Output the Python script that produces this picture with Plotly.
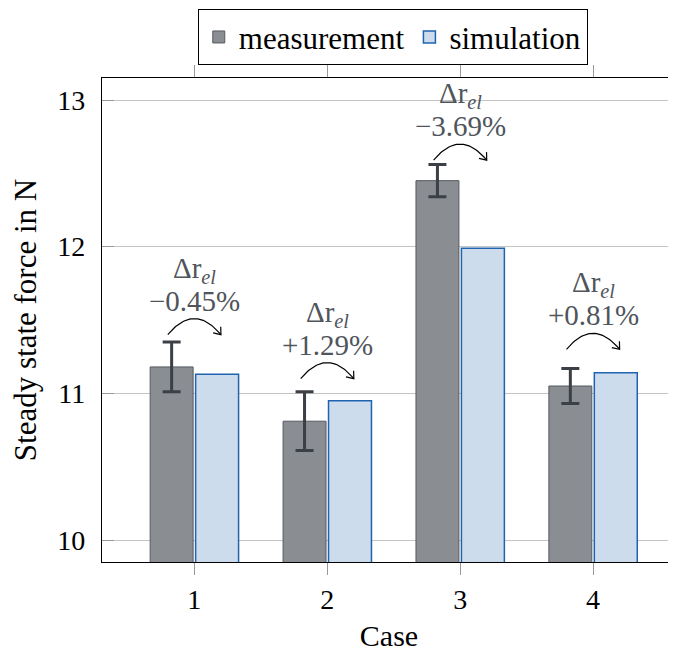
import numpy as np
import plotly.graph_objects as go

cases = [1, 2, 3, 4]
measurement = [11.18, 10.81, 12.45, 11.05]
measurement_err = [0.17, 0.20, 0.11, 0.12]
simulation = [11.13, 10.95, 11.99, 11.14]
delta_labels = ["\u22120.45%", "+1.29%", "\u22123.69%", "+0.81%"]
arc_base = [11.40, 11.10, 12.59, 11.30]   # anchor level of each curved arrow

FONT = "Liberation Serif"
TXT_GRAY = "#50555c"

X_RANGE = [0.305, 4.624]
Y_RANGE = [9.85, 13.15]
OFF = 8  # page body margin
L, R, T, B = 102 - OFF, 0, 78 - OFF, 90
W, H = 676 - OFF, 652 - OFF
sx = (W - L - R) / (X_RANGE[1] - X_RANGE[0])   # px per x unit
sy = (H - T - B) / (Y_RANGE[1] - Y_RANGE[0])   # px per y unit

fig = go.Figure()
fig.add_trace(go.Bar(
    x=cases, y=measurement, name="measurement",
    marker=dict(color="#8a8d92", line=dict(color="#555a60", width=1)),
    error_y=dict(type="data", array=measurement_err, color="#3b4047",
                 thickness=3, width=9),
))
fig.add_trace(go.Bar(
    x=cases, y=simulation, name="simulation",
    marker=dict(color="#cddcec", line=dict(color="#1f63b0", width=1.5)),
))

annotations = []
half = 0.2
for c, base, lab in zip(cases, arc_base, delta_labels):
    p0 = np.array([c - half, base])
    p2 = np.array([c + half, base])
    peak_px = 16.0
    p1 = np.array([c, base + 2 * peak_px / sy])
    t = np.linspace(0, 1, 40)[:, None]
    pts = (1 - t) ** 2 * p0 + 2 * (1 - t) * t * p1 + t ** 2 * p2
    tang = np.array([(p2[0] - p1[0]) * sx, (p2[1] - p1[1]) * sy])
    tang = tang / np.linalg.norm(tang)
    back = -tang
    wl = 8.0
    wings = []
    for ang in (np.deg2rad(38), -np.deg2rad(38)):
        rot = np.array([back[0] * np.cos(ang) - back[1] * np.sin(ang),
                        back[0] * np.sin(ang) + back[1] * np.cos(ang)])
        wings.append(p2 + np.array([rot[0] * wl / sx, rot[1] * wl / sy]))
    xs = [float(v) for v in pts[:, 0]] + [None, float(wings[0][0]), float(p2[0]), float(wings[1][0])]
    ys = [float(v) for v in pts[:, 1]] + [None, float(wings[0][1]), float(p2[1]), float(wings[1][1])]
    fig.add_trace(go.Scatter(x=xs, y=ys, mode="lines",
                             line=dict(color="black", width=1.2),
                             showlegend=False, hoverinfo="skip"))
    annotations.append(dict(x=c, y=base, xref="x", yref="y",
                            text=lab, showarrow=False, yanchor="middle",
                            yshift=34, font=dict(family=FONT, size=29, color=TXT_GRAY)))
    annotations.append(dict(x=c, y=base, xref="x", yref="y",
                            text="\u0394r<sub><i>el</i></sub>", showarrow=False,
                            yanchor="middle", yshift=65,
                            font=dict(family=FONT, size=29, color=TXT_GRAY)))

fig.update_layout(
    width=W, height=H,
    margin=dict(l=L, r=R, t=T, b=B),
    paper_bgcolor="white", plot_bgcolor="white",
    font=dict(family=FONT, size=28, color="black"),
    barmode="group", bargap=0.316, bargroupgap=0.055,
    annotations=annotations,
    legend=dict(orientation="h", xref="container", yref="container",
                x=0.576, xanchor="center", y=0.998, yanchor="top",
                bordercolor="black", borderwidth=1, bgcolor="white",
                font=dict(family=FONT, size=31, color="black"), itemwidth=30,
                tracegroupgap=0),
    xaxis=dict(range=X_RANGE, tickvals=cases, ticktext=[str(c) for c in cases],
               showgrid=False, zeroline=False,
               showline=True, linecolor="black", linewidth=1.2, mirror="ticks",
               ticks="outside", ticklen=12, tickcolor="#999999", tickwidth=1,
               tickfont=dict(family=FONT, size=28, color="black"),
               title=dict(text="Case", standoff=16,
                          font=dict(family=FONT, size=30, color="black"))),
    yaxis=dict(range=Y_RANGE, tickvals=[10, 11, 12, 13],
               showgrid=True, gridcolor="#c4c4c4", gridwidth=1, zeroline=False,
               showline=True, linecolor="black", linewidth=1.2, mirror=False,
               ticks="inside", ticklen=12, tickcolor="#999999", tickwidth=1,
               ticklabelstandoff=10, tickfont=dict(family=FONT, size=28, color="black"),
               title=dict(text="Steady state force in N", standoff=18,
                          font=dict(family=FONT, size=31, color="black"))),
)

fig.write_html("out.html")
